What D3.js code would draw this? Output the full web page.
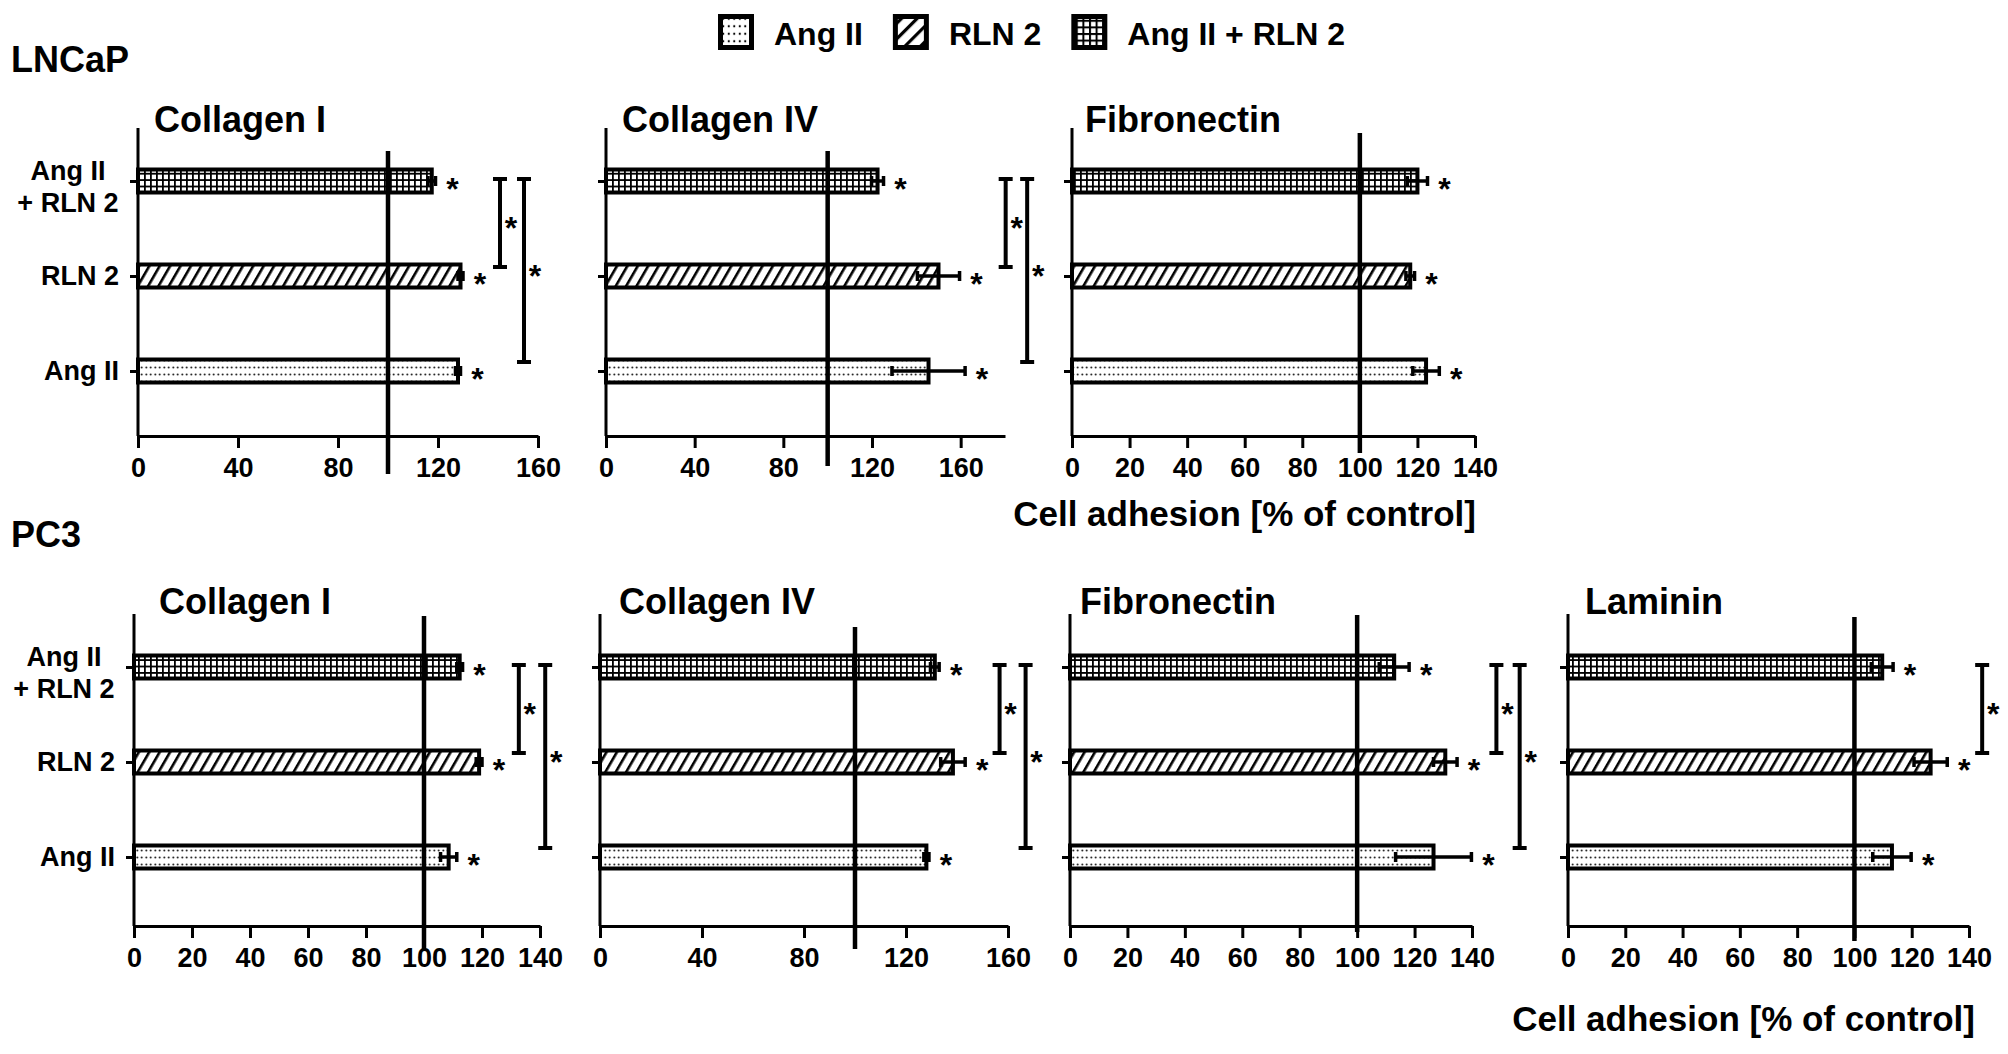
<!DOCTYPE html>
<html>
<head>
<meta charset="utf-8">
<script src="https://cdn.jsdelivr.net/npm/d3@7"></script>
<style>
  body { margin: 0; background: #fff; }
  text { font-family: "Liberation Sans", Arial, sans-serif; font-weight: bold; fill: #000; }
</style>
</head>
<body>
<svg id="chart" width="2008" height="1054"></svg>
<script>
// categories, top to bottom in every panel
const categories = ["Ang II + RLN 2", "RLN 2", "Ang II"];
const legendItems = ["Ang II", "RLN 2", "Ang II + RLN 2"];
const controlLevel = 100;

// LNCaP
const lncapPanels = ["Collagen I", "Collagen IV", "Fibronectin"];
const lncapMeans = [[117.5, 129, 128], [122.5, 150, 145.5], [120, 117.5, 123]];
const lncapErrors = [[1.5, 1, 1], [2.7, 9.5, 16.5], [3.5, 1.5, 4.6]];
const lncapAxisMax = [160, 180, 140];
const lncapTicks = [[0, 40, 80, 120, 160], [0, 40, 80, 120, 160], [0, 20, 40, 60, 80, 100, 120, 140]];
// [from category, to category, x value]
const lncapBrackets = [[[0, 1, 144.8], [0, 2, 154.4]], [[0, 1, 180.3], [0, 2, 190]], []];

// PC3
const pc3Panels = ["Collagen I", "Collagen IV", "Fibronectin", "Laminin"];
const pc3Means = [[112.3, 119, 108.5], [131.3, 138.4, 128], [112.9, 130.7, 126.6], [109.7, 126.6, 113.1]];
const pc3Errors = [[1, 1, 2.8], [1.7, 4.8, 1], [5.2, 4.1, 13.2], [3.8, 5.8, 6.7]];
const pc3AxisMax = [140, 160, 140, 140];
const pc3Ticks = [[0, 20, 40, 60, 80, 100, 120, 140], [0, 40, 80, 120, 160],
                  [0, 20, 40, 60, 80, 100, 120, 140], [0, 20, 40, 60, 80, 100, 120, 140]];
const pc3Brackets = [[[0, 1, 132.7], [0, 2, 141.8]], [[0, 1, 156.7], [0, 2, 166.9]],
                     [[0, 1, 148.5], [0, 2, 156.6]], [[0, 1, 144.6]]];

const xLabel = "Cell adhesion [% of control]";

// layout
const rows = [
  { label: "LNCaP", labelY: 72, titleY: 132, top: 128, base: 436, xlabelX: 1476, xlabelY: 526,
    titles: lncapPanels, means: lncapMeans, errors: lncapErrors, axisMax: lncapAxisMax,
    ticks: lncapTicks, brackets: lncapBrackets,
    panels: [
      { x0: 138, w: 400, titleX: 154, refTop: 151, refBot: 474 },
      { x0: 606, w: 399, titleX: 622, refTop: 151, refBot: 466 },
      { x0: 1072, w: 403, titleX: 1085, refTop: 133, refBot: 453 }
    ] },
  { label: "PC3", labelY: 547, titleY: 614, top: 614, base: 926, xlabelX: 1975, xlabelY: 1031,
    titles: pc3Panels, means: pc3Means, errors: pc3Errors, axisMax: pc3AxisMax,
    ticks: pc3Ticks, brackets: pc3Brackets,
    panels: [
      { x0: 134, w: 406, titleX: 159, refTop: 616, refBot: 949 },
      { x0: 600, w: 408, titleX: 619, refTop: 627, refBot: 949 },
      { x0: 1070, w: 402, titleX: 1080, refTop: 615, refBot: 932 },
      { x0: 1568, w: 401, titleX: 1585, refTop: 617, refBot: 941 }
    ] }
];

const fillOf = { "Ang II": "dots", "RLN 2": "hatch", "Ang II + RLN 2": "grid" };

const svg = d3.select("#chart");
svg.append("rect").attr("width", 2008).attr("height", 1054).attr("fill", "#fff");
const defs = svg.append("defs");

function addPattern(id, w, h, transform, draw) {
  const p = defs.append("pattern")
    .attr("id", id)
    .attr("patternUnits", "userSpaceOnUse")
    .attr("width", w)
    .attr("height", h);
  if (transform) p.attr("patternTransform", transform);
  p.append("rect").attr("width", w).attr("height", h).attr("fill", "#fff");
  draw(p);
}

// bar fills
addPattern("dots", 4.5, 7, null, p =>
  p.append("circle").attr("cx", 2.25).attr("cy", 3.5).attr("r", 0.9).attr("fill", "#000"));
addPattern("hatch", 9, 10, "rotate(30)", p =>
  p.append("rect").attr("width", 2.6).attr("height", 10).attr("fill", "#000"));
addPattern("grid", 6, 6.4, null, p => {
  p.append("rect").attr("width", 1.8).attr("height", 6.4).attr("fill", "#000");
  p.append("rect").attr("width", 6).attr("height", 1.8).attr("fill", "#000");
});
// legend fills (coarser)
addPattern("dotsL", 5.5, 7.5, null, p =>
  p.append("circle").attr("cx", 2.75).attr("cy", 3.75).attr("r", 1.1).attr("fill", "#000"));
addPattern("hatchL", 11, 11, "rotate(45)", p =>
  p.append("rect").attr("width", 3.2).attr("height", 11).attr("fill", "#000"));
addPattern("gridL", 6.6, 6.6, null, p => {
  p.append("rect").attr("width", 2).attr("height", 6.6).attr("fill", "#000");
  p.append("rect").attr("width", 6.6).attr("height", 2).attr("fill", "#000");
});

// legend
let lx = 718;
legendItems.forEach(name => {
  svg.append("rect")
    .attr("x", lx + 2.5).attr("y", 16.5)
    .attr("width", 31).attr("height", 31)
    .attr("fill", `url(#${fillOf[name]}L)`)
    .attr("stroke", "#000").attr("stroke-width", 5);
  const t = svg.append("text")
    .attr("x", lx + 56).attr("y", 45)
    .style("font-size", "32px")
    .text(name);
  lx += 56 + t.node().getComputedTextLength() + 30;
});

rows.forEach(row => {
  svg.append("text")
    .attr("x", 11).attr("y", row.labelY)
    .style("font-size", "36px")
    .text(row.label);

  row.panels.forEach((pl, pi) => {
    const g = svg.append("g");
    const x = d3.scaleLinear().domain([0, row.axisMax[pi]]).range([pl.x0, pl.x0 + pl.w]);
    const y = d3.scalePoint().domain(categories).range([row.top + 53, row.top + 243]);

    const data = categories.map((c, i) => ({ cat: c, mean: row.means[pi][i], err: row.errors[pi][i] }));

    // title
    g.append("text")
      .attr("x", pl.titleX).attr("y", row.titleY)
      .style("font-size", "36px")
      .text(row.titles[pi]);

    // bars
    g.selectAll("rect.bar")
      .data(data)
      .join("rect")
      .attr("class", "bar")
      .attr("x", pl.x0)
      .attr("y", d => y(d.cat) - 11.5)
      .attr("width", d => x(d.mean) - pl.x0)
      .attr("height", 23)
      .attr("fill", d => `url(#${fillOf[d.cat]})`)
      .attr("stroke", "#000")
      .attr("stroke-width", 4);

    // error bars
    g.selectAll("path.err")
      .data(data)
      .join("path")
      .attr("class", "err")
      .attr("d", d => {
        const c = y(d.cat), a = x(d.mean - d.err), b = x(d.mean + d.err);
        return `M${a},${c}H${b}M${a},${c - 5}V${c + 5}M${b},${c - 5}V${c + 5}`;
      })
      .attr("fill", "none")
      .attr("stroke", "#000")
      .attr("stroke-width", 3.5);

    // stars next to bars
    g.selectAll("text.star")
      .data(data)
      .join("text")
      .attr("class", "star")
      .attr("x", d => x(d.mean + d.err) + 17)
      .attr("y", d => y(d.cat) + 19)
      .attr("text-anchor", "middle")
      .style("font-size", "32px")
      .text("*");

    // y axis
    g.append("line")
      .attr("x1", pl.x0).attr("x2", pl.x0)
      .attr("y1", row.top).attr("y2", row.base)
      .attr("stroke", "#000").attr("stroke-width", 3);
    const yAxis = g.append("g")
      .attr("transform", `translate(${pl.x0},0)`)
      .call(d3.axisLeft(y).tickSize(8).tickFormat(""));
    yAxis.select(".domain").remove();
    yAxis.selectAll(".tick line").attr("stroke-width", 3);

    // x axis
    const xAxis = g.append("g")
      .attr("transform", `translate(0,${row.base})`)
      .call(d3.axisBottom(x).tickValues(row.ticks[pi]).tickSize(12).tickSizeOuter(0).tickPadding(10));
    xAxis.attr("font-family", null).attr("font-size", null);
    xAxis.select(".domain").attr("stroke-width", 3);
    xAxis.selectAll(".tick line").attr("stroke-width", 3);
    xAxis.selectAll(".tick text").style("font-size", "27px");

    // control line at 100 %
    g.append("line")
      .attr("x1", x(controlLevel)).attr("x2", x(controlLevel))
      .attr("y1", pl.refTop).attr("y2", pl.refBot)
      .attr("stroke", "#000").attr("stroke-width", 4.5);

    // significance brackets
    row.brackets[pi].forEach(([a, b, v]) => {
      const bx = x(v), y1 = y(categories[a]) - 2, y2 = y(categories[b]) - 9;
      g.append("path")
        .attr("d", `M${bx},${y1}V${y2}M${bx - 7},${y1}H${bx + 7}M${bx - 7},${y2}H${bx + 7}`)
        .attr("fill", "none")
        .attr("stroke", "#000")
        .attr("stroke-width", 4);
      g.append("text")
        .attr("x", bx + 11).attr("y", (y1 + y2) / 2 - 3 + 19)
        .attr("text-anchor", "middle")
        .style("font-size", "32px")
        .text("*");
    });

    // category labels on the first panel of each row
    if (pi === 0) {
      categories.forEach(c => {
        const cy = y(c);
        if (c === "Ang II + RLN 2") {
          const t = g.append("text")
            .attr("text-anchor", "middle")
            .style("font-size", "27px");
          t.append("tspan").attr("x", pl.x0 - 70).attr("y", cy - 1).text("Ang II");
          t.append("tspan").attr("x", pl.x0 - 70).attr("y", cy + 31).text("+ RLN 2");
        } else {
          g.append("text")
            .attr("x", pl.x0 - 19).attr("y", cy + 9)
            .attr("text-anchor", "end")
            .style("font-size", "27px")
            .text(c);
        }
      });
    }
  });

  svg.append("text")
    .attr("x", row.xlabelX).attr("y", row.xlabelY)
    .attr("text-anchor", "end")
    .style("font-size", "35px")
    .text(xLabel);
});
</script>
</body>
</html>
